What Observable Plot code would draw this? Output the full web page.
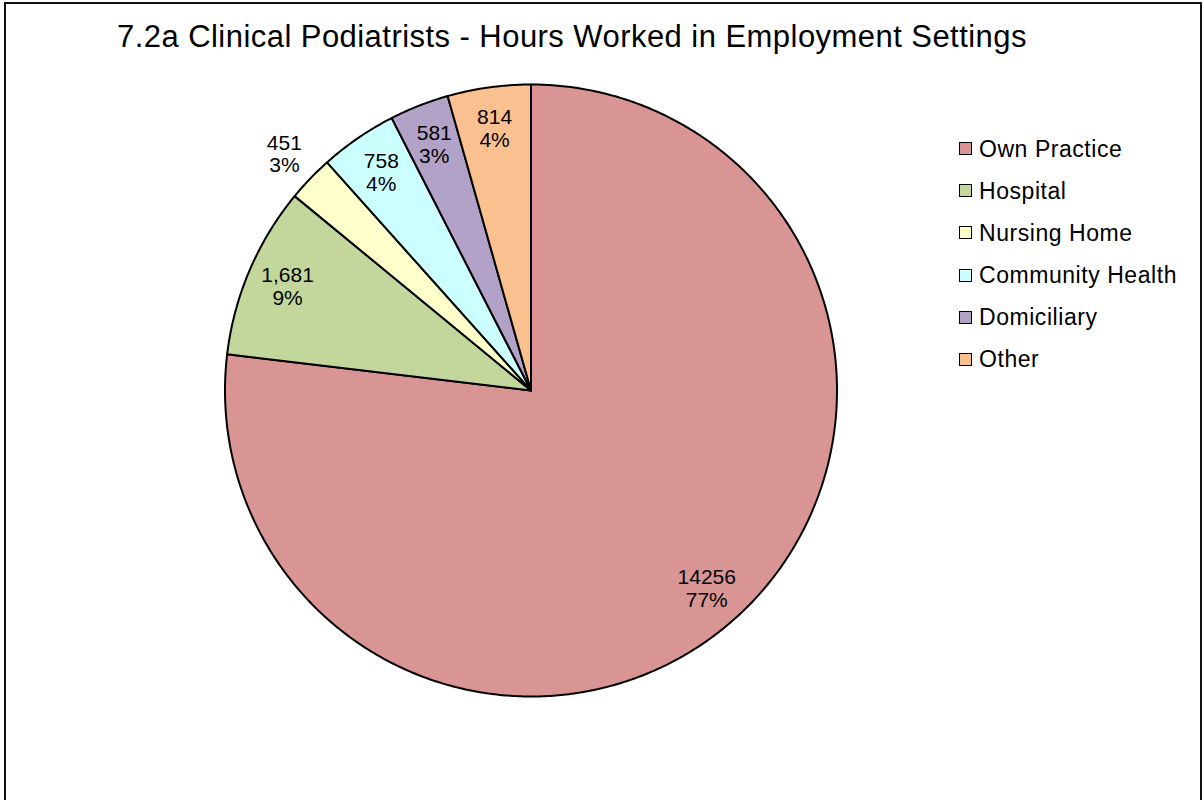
<!DOCTYPE html>
<html>
<head>
<meta charset="utf-8">
<script src="https://cdn.jsdelivr.net/npm/d3@7"></script>
<script src="https://cdn.jsdelivr.net/npm/@observablehq/plot@0.6"></script>
<style>
html, body { margin: 0; padding: 0; background: #fff; overflow: hidden; width: 1204px; height: 800px; }
#frame { position: absolute; left: 4px; top: 2px; width: 1198px; height: 840px; border: 2px solid #111; box-sizing: border-box; }
#chart { position: absolute; left: 0; top: 0; }
#title { position: absolute; left: 117px; top: 21px; white-space: nowrap; font-family: "Liberation Sans", Arial, sans-serif; font-size: 31px; line-height: 31px; letter-spacing: 0.45px; color: #000; }
#legend { position: absolute; left: 959px; top: 0; font-family: "Liberation Sans", Arial, sans-serif; font-size: 23px; letter-spacing: 0.55px; color: #000; }
.item { position: absolute; left: 0; white-space: nowrap; height: 30px; }
.sw { position: absolute; left: 0; width: 13px; height: 13px; border: 1.8px solid #000; box-sizing: border-box; }
.lab { position: absolute; left: 20px; line-height: 23px; }
</style>
</head>
<body>
<div id="frame"></div>
<div id="chart"></div>
<div id="title">7.2a Clinical Podiatrists - Hours Worked in Employment Settings</div>
<div id="legend"></div>
<script>
// ---- Data ----
const categories = ["Own Practice", "Hospital", "Nursing Home", "Community Health", "Domiciliary", "Other"];
const hours = [14256, 1681, 451, 758, 581, 814];
const valueLabels = ["14256", "1,681", "451", "758", "581", "814"];
const percentLabels = ["77%", "9%", "3%", "4%", "3%", "4%"];
const colors = ["#D99594", "#C3D69B", "#FFFFCC", "#CCFFFF", "#B3A2C7", "#FAC090"];

// ---- Layout constants ----
const W = 1204, H = 800;
const cx = 530.5, cy = 390, R = 306;
const insideLabelR = 0.865, outsideLabelR = 1.117;
const outsideLabels = new Set(["Nursing Home"]);

const rows = categories.map((c, i) => ({category: c, hours: hours[i], label: valueLabels[i] + "\n" + percentLabels[i]}));
const arcs = d3.pie().sort(null).value(d => d.hours)(rows);

// slice polygons in unit-circle coordinates (y up, angle clockwise from top)
const pts = [];
for (const s of arcs) {
  const cat = s.data.category;
  pts.push({category: cat, x: 0, y: 0});
  const n = Math.max(4, Math.ceil((s.endAngle - s.startAngle) / (Math.PI / 360)));
  for (let i = 0; i <= n; i++) {
    const a = s.startAngle + (s.endAngle - s.startAngle) * i / n;
    pts.push({category: cat, x: Math.sin(a), y: Math.cos(a)});
  }
  pts.push({category: cat, x: 0, y: 0});
}

const labels = arcs.map(s => {
  const a = (s.startAngle + s.endAngle) / 2;
  const r = outsideLabels.has(s.data.category) ? outsideLabelR : insideLabelR;
  return {x: Math.sin(a) * r, y: Math.cos(a) * r, text: s.data.label};
});

const plot = Plot.plot({
  width: W,
  height: H,
  margin: 0,
  style: {background: "transparent", fontFamily: "'Liberation Sans', Arial, sans-serif", overflow: "visible"},
  x: {domain: [-cx / R, (W - cx) / R], axis: null},
  y: {domain: [-(H - cy) / R, cy / R], axis: null},
  color: {domain: categories, range: colors},
  marks: [
    Plot.line(pts, {x: "x", y: "y", z: "category", fill: "category", stroke: "#000", strokeWidth: 2, strokeLinejoin: "round", curve: "linear"}),
    Plot.text(labels, {x: "x", y: "y", text: "text", fontSize: 21, lineHeight: 1.08, fill: "#000"})
  ]
});
document.getElementById("chart").appendChild(plot);

// legend
const legend = document.getElementById("legend");
const baseline0 = 157.7, step = 42.1;
categories.forEach((c, i) => {
  const b = baseline0 + i * step;
  const item = document.createElement("div");
  item.className = "item";
  item.style.top = (b - 20) + "px";
  const sw = document.createElement("div");
  sw.className = "sw";
  sw.style.background = colors[i];
  sw.style.top = "4.5px";
  const lab = document.createElement("div");
  lab.className = "lab";
  lab.style.top = "0px";
  lab.textContent = c;
  item.appendChild(sw);
  item.appendChild(lab);
  legend.appendChild(item);
});
</script>
</body>
</html>
